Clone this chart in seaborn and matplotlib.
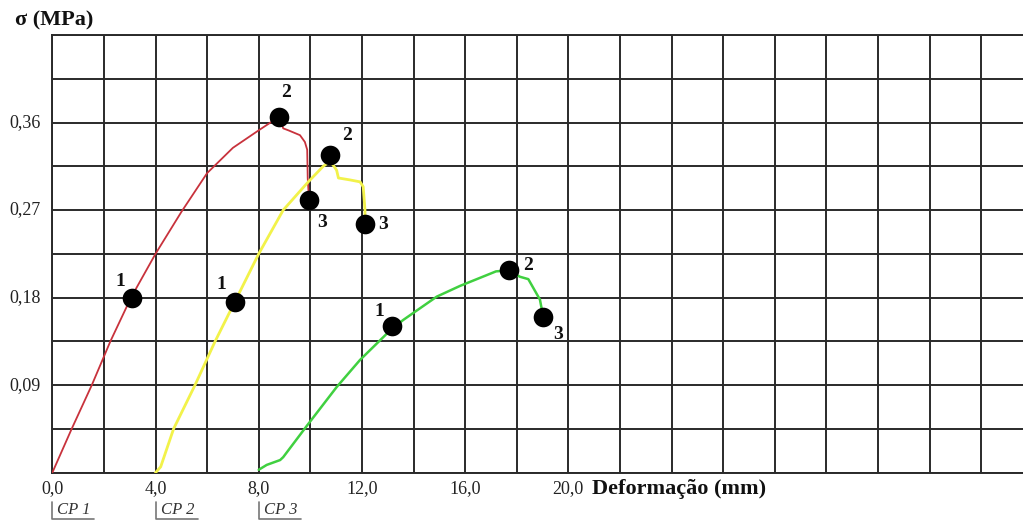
import numpy as np
import pandas as pd
import matplotlib
matplotlib.use("Agg")
import matplotlib.pyplot as plt
import seaborn as sns

# Stress-strain curves of three specimens: deformation (mm) and stress (MPa)
cp1_def = [0.0, 0.75, 1.53, 2.25, 3.05, 4.0, 5.0, 6.0, 7.0, 8.0, 8.80, 8.95, 9.15, 9.60, 9.79, 9.88, 9.90, 9.95]
cp1_sig = [0.0, 0.045, 0.090, 0.135, 0.180, 0.225, 0.268, 0.308, 0.334, 0.352, 0.366, 0.354, 0.352, 0.347, 0.340, 0.332, 0.303, 0.280]

cp2_def = [4.0, 4.2, 4.7, 5.53, 6.31, 7.08, 8.0, 8.95, 9.92, 10.5, 10.76, 10.89, 11.02, 11.09, 11.54, 11.93, 12.05, 12.12, 12.12]
cp2_sig = [0.0, 0.006, 0.045, 0.090, 0.135, 0.176, 0.225, 0.270, 0.299, 0.315, 0.320, 0.316, 0.311, 0.303, 0.301, 0.299, 0.294, 0.270, 0.256]

cp3_def = [8.0, 8.31, 8.83, 8.95, 9.86, 11.02, 11.93, 12.70, 13.16, 13.6, 14.9, 15.8, 17.2, 17.71, 18.12, 18.45, 18.9, 19.03]
cp3_sig = [0.003, 0.008, 0.013, 0.016, 0.048, 0.088, 0.116, 0.136, 0.148, 0.157, 0.181, 0.192, 0.207, 0.208, 0.2015, 0.199, 0.178, 0.160]

# Characteristic points 1, 2, 3 of each specimen
cp1_pts_def = [3.10, 8.80, 9.95]
cp1_pts_sig = [0.180, 0.366, 0.280]
cp2_pts_def = [7.08, 10.76, 12.12]
cp2_pts_sig = [0.176, 0.327, 0.256]
cp3_pts_def = [13.16, 17.71, 19.03]
cp3_pts_sig = [0.151, 0.208, 0.160]

specimens = ["CP 1", "CP 2", "CP 3"]
starts = [0.0, 4.0, 8.0]
x_ticks = [0.0, 4.0, 8.0, 12.0, 16.0, 20.0]
x_tick_labels = ["0,0", "4,0", "8,0", "12,0", "16,0", "20,0"]
y_ticks = [0.09, 0.18, 0.27, 0.36]
y_tick_labels = ["0,09", "0,18", "0,27", "0,36"]

sns.set_style("white")
plt.rcParams["font.family"] = ["Liberation Serif", "DejaVu Serif"]

fig = plt.figure(figsize=(10.23, 5.21), dpi=100)
ax = fig.add_axes([52.3 / 1023, (521 - 472.7) / 521, 1 - 52.3 / 1023, (472.7 - 35) / 521])

XMAX = (1023 - 52.3) / 25.8
ax.set_xlim(0, XMAX)
ax.set_ylim(0, 0.45)

# Square grid every 2 mm and every 0.045 MPa
ax.set_xticks(np.arange(0, XMAX, 2.0))
ax.set_yticks(np.arange(0, 0.4501, 0.045))
ax.set_xticklabels([])
ax.set_yticklabels([])
ax.grid(True, color="#2a2a2a", linewidth=1.4)
ax.tick_params(length=0)
for side in ["left", "bottom", "top"]:
    ax.spines[side].set_color("#2a2a2a")
    ax.spines[side].set_linewidth(1.4)
ax.spines["right"].set_visible(False)
ax.set_axisbelow(True)

# Tick labels as text placed from the tick arrays
xt = ax.get_xaxis_transform()
yt = ax.get_yaxis_transform()
for v, lab in zip(x_ticks, x_tick_labels):
    ax.text(v, -0.016, lab, transform=xt, ha="center", va="top", fontsize=13, color="#222222")
for v, lab in zip(y_ticks, y_tick_labels):
    ax.text(-0.012, v, lab, transform=yt, ha="right", va="center", fontsize=13, color="#222222")

curves = [
    (cp1_def, cp1_sig, cp1_pts_def, cp1_pts_sig, "#c8323c", 1.3),
    (cp2_def, cp2_sig, cp2_pts_def, cp2_pts_sig, "#f2f24a", 2.0),
    (cp3_def, cp3_sig, cp3_pts_def, cp3_pts_sig, "#40d040", 1.8),
]
label_offsets = [
    [(-12, 16), (7, 24), (13, -22)],
    [(-14, 17), (17, 19), (18, -1)],
    [(-13, 14), (19, 5), (15, -17)],
]

for (dx, sy, px, py, col, lw), name, offs in zip(curves, specimens, label_offsets):
    df = pd.DataFrame({"def": dx, "sig": sy})
    sns.lineplot(data=df, x="def", y="sig", sort=False, estimator=None,
                 color=col, linewidth=lw, ax=ax, zorder=3)
    pts = pd.DataFrame({"def": px, "sig": py})
    sns.scatterplot(data=pts, x="def", y="sig", color="black", s=200,
                    edgecolor="black", linewidth=0, ax=ax, zorder=5)
    for i, (x, y) in enumerate(zip(px, py)):
        ax.annotate(str(i + 1), (x, y), xytext=offs[i], textcoords="offset pixels",
                    ha="center", va="center", fontsize=14, fontweight="bold",
                    color="#111111", zorder=6)

ax.set_xlabel("")
ax.set_ylabel("")

# Specimen start markers below the axis
for s, name in zip(starts, specimens):
    ax.plot([s, s, s + 1.63], [-0.066, -0.1065, -0.1065], transform=xt,
            color="#777777", linewidth=1.2, clip_on=False)
    ax.text(s + 0.2, -0.085, name, transform=xt, ha="left", va="center",
            fontsize=12, style="italic", color="#333333")

ax.text(20.9, -0.038, "Deformação (mm)", transform=xt, ha="left", va="center",
        fontsize=16, fontweight="bold", color="#111111")
fig.text(15 / 1023, (521 - 20) / 521, "σ (MPa)", ha="left", va="center",
         fontsize=16, fontweight="bold", color="#111111")

fig.savefig("out.png", dpi=100)
